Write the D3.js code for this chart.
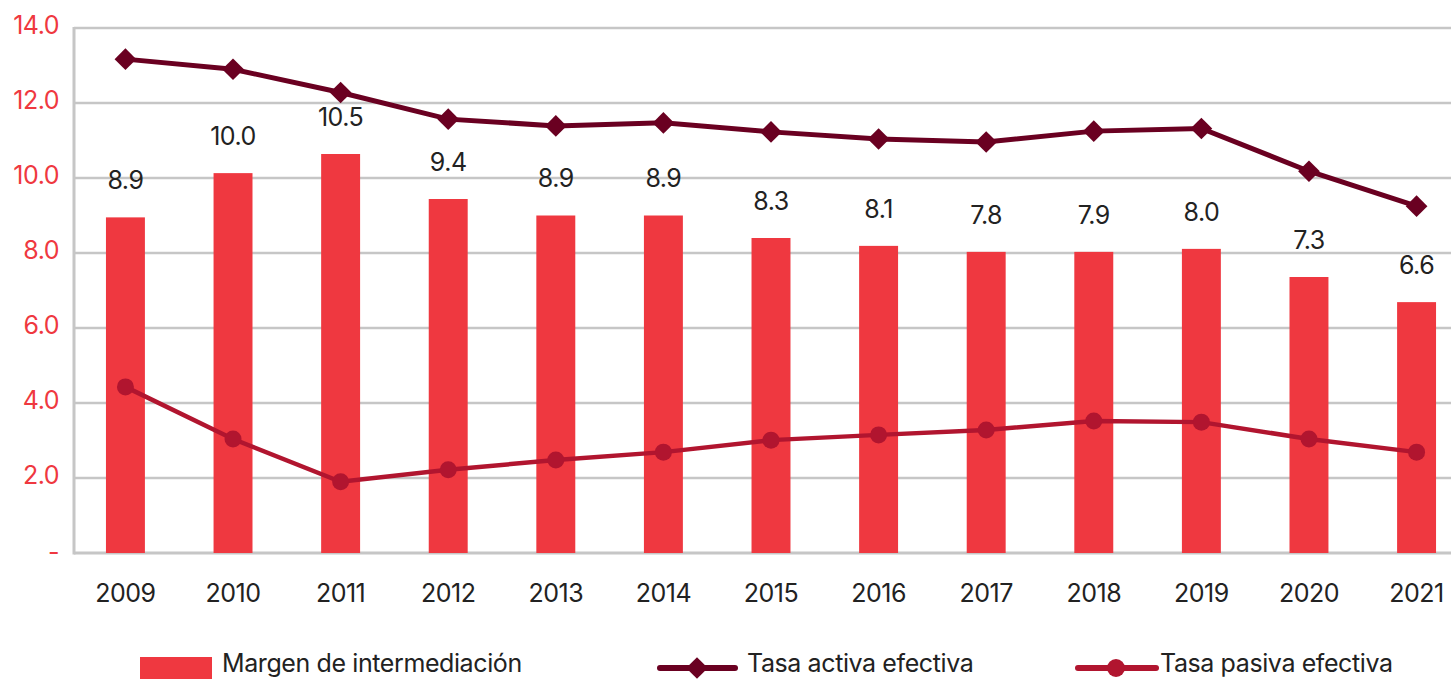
<!DOCTYPE html>
<html>
<head>
<meta charset="utf-8">
<script src="https://cdn.jsdelivr.net/npm/d3@7"></script>
<style>
  html, body { margin: 0; padding: 0; background: #fff; }
  svg { display: block; font-family: Inter, "Noto Sans", sans-serif; }
</style>
</head>
<body>
<div id="chart"></div>
<script>
const years = [2009, 2010, 2011, 2012, 2013, 2014, 2015, 2016, 2017, 2018, 2019, 2020, 2021];
// margen de intermediación (bar heights) and the labels printed above them
const margen = [8.95, 10.13, 10.64, 9.44, 9.0, 9.0, 8.4, 8.19, 8.03, 8.03, 8.11, 7.36, 6.69];
const margenLabels = ['8.9', '10.0', '10.5', '9.4', '8.9', '8.9', '8.3', '8.1', '7.8', '7.9', '8.0', '7.3', '6.6'];
const tasaActiva = [13.17, 12.9, 12.28, 11.57, 11.39, 11.47, 11.23, 11.04, 10.96, 11.25, 11.32, 10.18, 9.25];
const tasaPasiva = [4.43, 3.04, 1.9, 2.22, 2.48, 2.69, 3.01, 3.15, 3.28, 3.52, 3.49, 3.04, 2.69];
const yTicks = [0, 2, 4, 6, 8, 10, 12, 14];
const legendItems = ['Margen de intermediación', 'Tasa activa efectiva', 'Tasa pasiva efectiva'];

const width = 1451, height = 679;
const margin = { top: 28, left: 74, bottom: 126 };
const colors = { bar: '#ef3840', activa: '#6a0021', pasiva: '#b1152f', grid: '#c6c6c6', ylab: '#ef3840', text: '#222' };

const svg = d3.select('#chart')
  .append('svg')
    .attr('width', width)
    .attr('height', height);

const x = d3.scaleBand()
  .domain(years)
  .range([margin.left, 1468])
  .paddingInner(0.638)
  .paddingOuter(0.297);

const y = d3.scaleLinear()
  .domain([0, 14])
  .range([height - margin.bottom, margin.top]);

// gridlines
svg.append('g')
  .selectAll('line')
  .data(yTicks)
  .join('line')
    .attr('x1', margin.left)
    .attr('x2', width)
    .attr('y1', d => y(d))
    .attr('y2', d => y(d))
    .attr('stroke', colors.grid)
    .attr('stroke-width', d => d === 0 ? 3 : 2.5);

// vertical axis line
svg.append('line')
  .attr('x1', margin.left).attr('x2', margin.left)
  .attr('y1', y(14) - 1).attr('y2', y(0) + 1.5)
  .attr('stroke', colors.grid)
  .attr('stroke-width', 3);

// y tick labels
svg.append('g')
  .selectAll('text')
  .data(yTicks)
  .join('text')
    .attr('x', 59)
    .attr('y', d => y(d) + (d === 0 ? 1 : -1))
    .attr('text-anchor', 'end')
    .attr('dominant-baseline', 'middle')
    .attr('fill', colors.ylab)
    .style('font-size', '25px')
    .style('letter-spacing', '-0.5px')
    .text(d => d === 0 ? '-' : d3.format('.1f')(d));

// x labels
svg.append('g')
  .selectAll('text')
  .data(years)
  .join('text')
    .attr('x', d => x(d) + x.bandwidth() / 2)
    .attr('y', 602)
    .attr('text-anchor', 'middle')
    .attr('fill', colors.text)
    .style('font-size', '25px')
    .style('letter-spacing', '-0.5px')
    .text(d => d);

// bars
svg.append('g')
  .selectAll('rect')
  .data(margen)
  .join('rect')
    .attr('x', (d, i) => x(years[i]))
    .attr('width', x.bandwidth())
    .attr('y', d => y(d))
    .attr('height', d => y(0) - y(d))
    .attr('fill', colors.bar);

// bar labels
svg.append('g')
  .selectAll('text')
  .data(margen)
  .join('text')
    .attr('x', (d, i) => x(years[i]) + x.bandwidth() / 2)
    .attr('y', d => y(d) - 35)
    .attr('text-anchor', 'middle')
    .attr('dominant-baseline', 'middle')
    .attr('fill', colors.text)
    .style('font-size', '25px')
    .style('letter-spacing', '-0.5px')
    .text((d, i) => margenLabels[i]);

const cx = i => x(years[i]) + x.bandwidth() / 2;
const line = d3.line()
  .x((d, i) => cx(i))
  .y(d => y(d));

const diamond = d3.symbol().type(d3.symbolDiamond2).size(300);

// tasa pasiva
svg.append('path')
  .datum(tasaPasiva)
  .attr('d', line)
  .attr('fill', 'none')
  .attr('stroke', colors.pasiva)
  .attr('stroke-width', 4.5);

svg.append('g')
  .selectAll('circle')
  .data(tasaPasiva)
  .join('circle')
    .attr('cx', (d, i) => cx(i))
    .attr('cy', d => y(d))
    .attr('r', 8.5)
    .attr('fill', colors.pasiva);

// tasa activa
svg.append('path')
  .datum(tasaActiva)
  .attr('d', line)
  .attr('fill', 'none')
  .attr('stroke', colors.activa)
  .attr('stroke-width', 5);

svg.append('g')
  .selectAll('path')
  .data(tasaActiva)
  .join('path')
    .attr('transform', (d, i) => `translate(${cx(i)},${y(d)})`)
    .attr('d', diamond)
    .attr('fill', colors.activa);

// legend
const legend = svg.append('g');
legend.append('rect')
  .attr('x', 140).attr('y', 657)
  .attr('width', 72).attr('height', 24)
  .attr('fill', colors.bar);

legend.append('line')
  .attr('x1', 660).attr('x2', 735)
  .attr('y1', 668).attr('y2', 668)
  .attr('stroke', colors.activa)
  .attr('stroke-width', 6)
  .attr('stroke-linecap', 'round');
legend.append('path')
  .attr('transform', 'translate(697,668)')
  .attr('d', diamond)
  .attr('fill', colors.activa);

legend.append('line')
  .attr('x1', 1078).attr('x2', 1156)
  .attr('y1', 668).attr('y2', 668)
  .attr('stroke', colors.pasiva)
  .attr('stroke-width', 6)
  .attr('stroke-linecap', 'round');
legend.append('circle')
  .attr('cx', 1116).attr('cy', 668)
  .attr('r', 9)
  .attr('fill', colors.pasiva);

legend.selectAll('text')
  .data(legendItems)
  .join('text')
    .attr('x', (d, i) => [222, 747, 1160][i])
    .attr('y', 672)
    .attr('fill', colors.text)
    .style('font-size', '25px')
    .style('letter-spacing', '-0.4px')
    .text(d => d);
</script>
</body>
</html>
